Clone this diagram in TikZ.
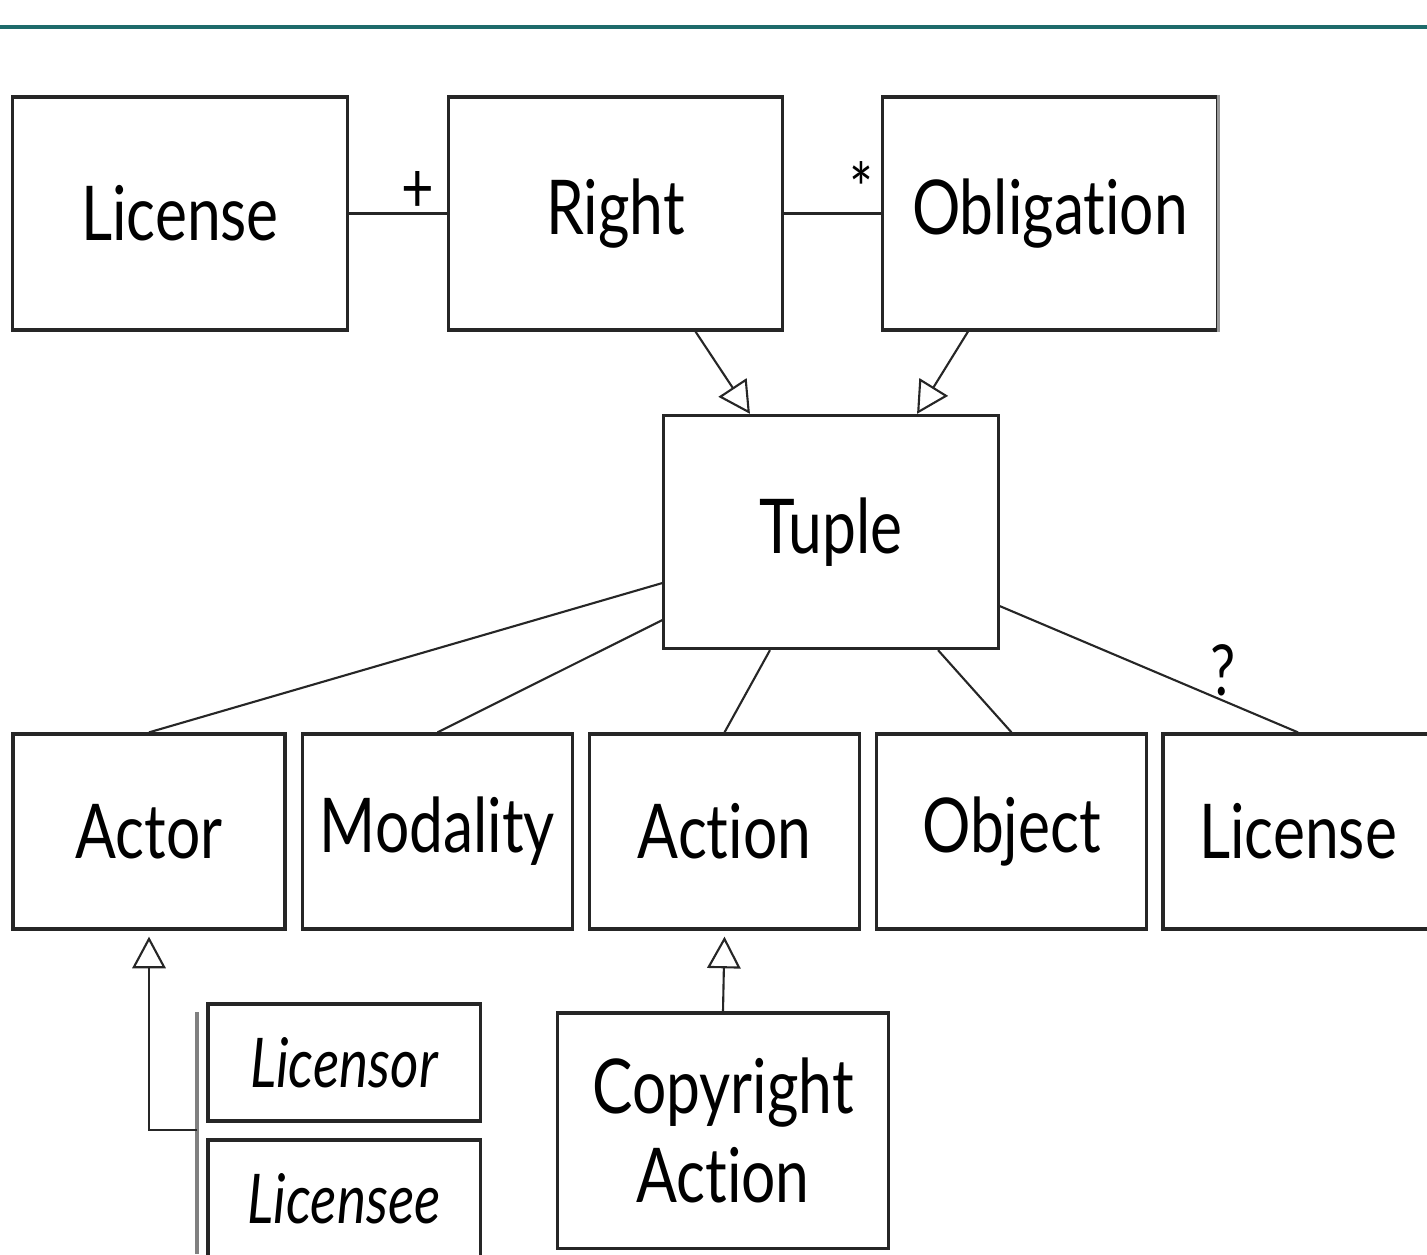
\documentclass[tikz,border=0pt]{standalone}
\usepackage{fontspec}
\setmainfont{Lato}[FakeStretch=0.8, Ligatures=NoCommon]
\usetikzlibrary{arrows.meta}
\definecolor{rulecolor}{HTML}{1E6B6B}
\tikzset{
  box/.style={draw=black!85, line width=0.9pt, minimum width=3.34cm, minimum height=2.33cm,
    inner sep=0pt, align=center, font=\fontsize{21.5}{25.5}\selectfont},
  partbox/.style={box, minimum width=2.7cm, minimum height=1.95cm},
  rolebox/.style={box, minimum width=2.72cm, minimum height=1.17cm, font=\fontsize{19.5}{24}\selectfont\itshape},
  link/.style={draw=black!85, line width=0.6pt},
  isa/.style={link, -{Triangle[open, length=9pt, width=9.5pt]}},
  mult/.style={font=\fontsize{20}{24}\selectfont, inner sep=1pt}
}
\begin{document}
\begin{tikzpicture}[x=0.01cm,y=-0.01cm]
  \useasboundingbox (0,0) rectangle (1427,1254);
  %\draw[help lines,step=100] (0,0) grid (1427,1254);
  \draw[rulecolor, line width=1.2pt] (0,27) -- (1427,27);
  % top row
  \node[box] (license) at (180,213.5) {License};
  \node[box] (right) at (615.5,213.5) {Right};
  \node[box] (obligation) at (1050,213.5) {Obligation};
  \draw[gray!80, line width=0.9pt] (obligation.north east) -- (obligation.south east);
  \draw[link] (license) -- node[mult, pos=0.7, above=-1pt] {+} (right);
  \draw[link] (right) -- node[mult, pos=0.8, above=-1.5pt] {*} (obligation);
  % tuple
  \node[box] (tuple) at (831,532) {Tuple};
  \draw[isa] ([xshift=0.8cm]right.south) -- ([xshift=-0.81cm]tuple.north);
  \draw[isa] ([xshift=-0.82cm]obligation.south) -- ([xshift=0.86cm]tuple.north);
  % parts of a tuple
  \node[partbox, minimum width=2.72cm] (actor) at (149,831.5) {Actor};
  \node[partbox] (modality) at (437.5,831.5) {Modality};
  \node[partbox] (action) at (724.5,831.5) {Action};
  \node[partbox] (object) at (1011.5,831.5) {Object};
  \node[partbox] (sublicense) at (1298,831.5) {License};
  \draw[link] ([yshift=-0.51cm]tuple.west) -- (actor.north);
  \draw[link] ([yshift=-0.88cm]tuple.west) -- (modality.north);
  \draw[link] ([xshift=-0.61cm]tuple.south) -- (action.north);
  \draw[link] ([xshift=1.07cm]tuple.south) -- (object.north);
  \draw[link] ([yshift=-0.74cm]tuple.east) -- node[mult, pos=0.75, above=0pt] {?} (sublicense.north);
  % kinds of actor
  \node[rolebox] (licensor) at (344,1062.5) {Licensor};
  \node[rolebox] (licensee) at (344,1198.5) {Licensee};
  \coordinate (bartop) at (197,1012);
  \coordinate (barend) at (197,1254);
  \coordinate (barjoin) at (197,1130);
  \draw[gray, line width=1pt] (bartop) -- (barend);
  \draw[isa] (barjoin) -- (barjoin -| actor.south) -- ([yshift=-0.06cm]actor.south);
  % kind of action
  \node[box, minimum width=3.3cm, minimum height=2.35cm] (copyright) at (723,1130.5) {Copyright\\Action};
  \draw[isa] (copyright.north) -- ([yshift=-0.06cm]action.south);
\end{tikzpicture}
\end{document}
